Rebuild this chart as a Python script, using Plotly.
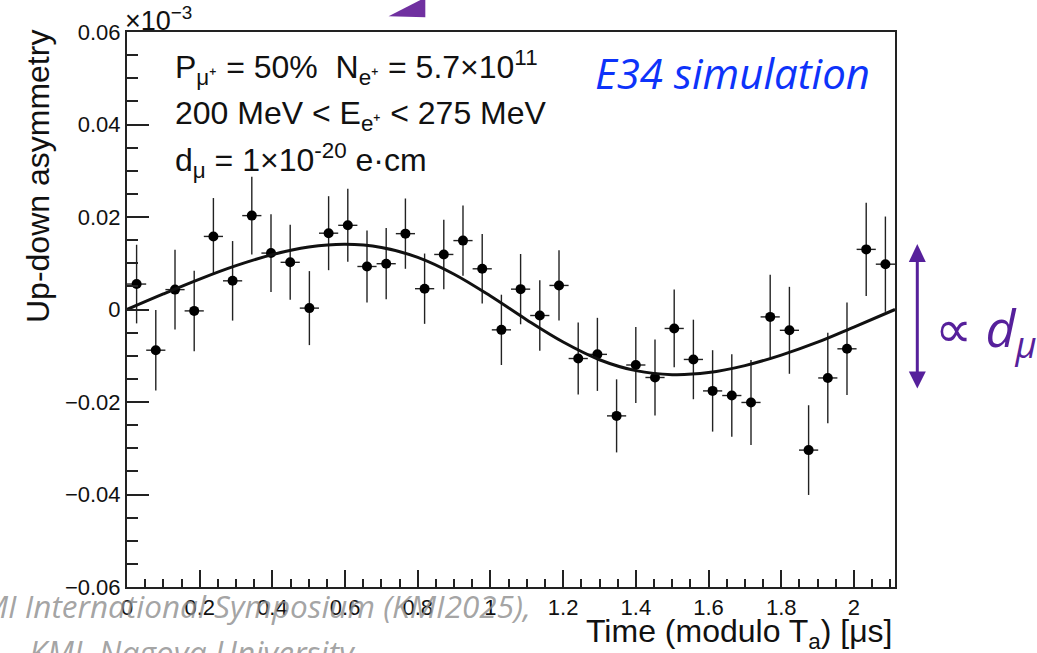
import plotly.graph_objects as go

# ---------------- data ----------------
bin_centers = [0.0264, 0.0792, 0.1321, 0.1849, 0.2377, 0.2905, 0.3434, 0.3962,
               0.4490, 0.5018, 0.5547, 0.6075, 0.6603, 0.7131, 0.7660, 0.8188,
               0.8716, 0.9244, 0.9773, 1.0301, 1.0829, 1.1357, 1.1886, 1.2414,
               1.2942, 1.3470, 1.3999, 1.4527, 1.5055, 1.5583, 1.6112, 1.6640,
               1.7168, 1.7696, 1.8225, 1.8753, 1.9281, 1.9809, 2.0338, 2.0866]
asymmetry = [0.0055, -0.0088, 0.0043, -0.0003, 0.0158, 0.0062, 0.0203, 0.0122,
             0.0102, 0.0003, 0.0165, 0.0182, 0.0093, 0.0099, 0.0164, 0.0045,
             0.0119, 0.0149, 0.0088, -0.0044, 0.0044, -0.0013, 0.0052, -0.0106,
             -0.0097, -0.0230, -0.0120, -0.0147, -0.0041, -0.0108, -0.0176, -0.0186,
             -0.0201, -0.0016, -0.0045, -0.0304, -0.0148, -0.0085, 0.0130, 0.0098]
asym_err = [0.0085, 0.0087, 0.0086, 0.0087, 0.0083, 0.0086, 0.0084, 0.0084,
            0.0081, 0.0080, 0.0080, 0.0079, 0.0078, 0.0077, 0.0076, 0.0076,
            0.0075, 0.0076, 0.0075, 0.0076, 0.0076, 0.0076, 0.0076, 0.0078,
            0.0079, 0.0079, 0.0082, 0.0082, 0.0084, 0.0086, 0.0088, 0.0089,
            0.0092, 0.0091, 0.0094, 0.0097, 0.0098, 0.0100, 0.0101, 0.0103]
bin_half_width = [0.0264] * len(bin_centers)

fit_x = [0.0, 0.1, 0.2, 0.3, 0.4, 0.5, 0.6, 0.7, 0.8, 0.9, 1.0, 1.1,
         1.2, 1.3, 1.4, 1.5, 1.6, 1.7, 1.8, 1.9, 2.0, 2.113]
fit_y = [0.0, 0.00336, 0.00657, 0.00947, 0.01186, 0.01349, 0.01410, 0.01341,
         0.01126, 0.00762, 0.00291, -0.00225, -0.00703, -0.01086, -0.01322,
         -0.01409, -0.01364, -0.01213, -0.00986, -0.00707, -0.00379, 0.0]

x_tickvals = [0, 0.2, 0.4, 0.6, 0.8, 1.0, 1.2, 1.4, 1.6, 1.8, 2.0]
x_ticktext = ["0", "0.2", "0.4", "0.6", "0.8", "1", "1.2", "1.4", "1.6", "1.8", "2"]
y_tickvals = [-0.06, -0.04, -0.02, 0, 0.02, 0.04, 0.06]
y_ticktext = ["\u22120.06", "\u22120.04", "\u22120.02", "0", "0.02", "0.04", "0.06"]

# ---------------- layout geometry ----------------
W, H = 1037, 653
ML, MR, MT, MB = 127, 142, 32, 66
PW, PH = W - ML - MR, H - MT - MB


def px(xp):
    return (xp - ML) / PW


def py(yp):
    return (H - MB - yp) / PH


def path(points):
    s = "M " + " L ".join(f"{px(a):.5f},{py(b):.5f}" for a, b in points) + " Z"
    return s


FONT = "Liberation Sans, Arial, sans-serif"
HUM = "Open Sans, sans-serif"
PURPLE = "#56209b"

fig = go.Figure()

fig.add_trace(go.Scatter(
    x=bin_centers, y=asymmetry, mode="markers",
    marker=dict(color="black", size=10),
    error_y=dict(type="data", array=asym_err, color="#222222", thickness=1.4, width=0),
    error_x=dict(type="data", array=bin_half_width, color="#222222", thickness=1.4, width=0),
    showlegend=False,
))

fig.add_trace(go.Scatter(
    x=fit_x, y=fit_y, mode="lines", line=dict(color="#111111", width=3, shape="spline"),
    showlegend=False,
))

axis_common = dict(
    showline=True, linecolor="#222222", linewidth=2, mirror=True,
    showgrid=False, zeroline=False, ticks="inside", tickcolor="#222222",
    tickfont=dict(family=FONT, size=22, color="#111111"),
)

fig.update_xaxes(range=[0, 2.113], tickvals=x_tickvals, ticktext=x_ticktext,
                 ticklen=17, tickwidth=1.5,
                 minor=dict(ticks="inside", dtick=0.05, ticklen=8, tickcolor="#222222", tickwidth=1.5),
                 **axis_common)
fig.update_yaxes(range=[-0.06, 0.06], tickvals=y_tickvals, ticktext=y_ticktext,
                 ticklen=22, tickwidth=1.5,
                 minor=dict(ticks="inside", dtick=0.005, ticklen=11, tickcolor="#222222", tickwidth=1.5),
                 **axis_common)

ann = []
# axis titles
ann.append(dict(text="Up-down asymmetry", xref="paper", yref="paper", x=px(38), y=py(177),
                textangle=-90, showarrow=False, xanchor="center", yanchor="middle",
                font=dict(family=FONT, size=32, color="#111111")))
ann.append(dict(text="Time (modulo T<sub>a</sub>) [\u03bcs]", xref="paper", yref="paper",
                x=1.0, y=py(633), showarrow=False, xanchor="right", yanchor="middle",
                font=dict(family=FONT, size=32, color="#111111")))
ann.append(dict(text="\u00d710<sup>\u22123</sup>", xref="paper", yref="paper",
                x=px(123), y=py(19), showarrow=False, xanchor="left", yanchor="middle",
                font=dict(family=FONT, size=27, color="#111111")))
# in-plot labels
ann.append(dict(text="P<sub>\u03bc\u207a</sub> = 50%  N<sub>e\u207a</sub> = 5.7\u00d710<sup>11</sup>",
                xref="paper", yref="paper", x=px(173), y=py(67), showarrow=False,
                xanchor="left", yanchor="middle", font=dict(family=FONT, size=32, color="#111111")))
ann.append(dict(text="200 MeV &lt; E<sub>e\u207a</sub> &lt; 275 MeV",
                xref="paper", yref="paper", x=px(173), y=py(115), showarrow=False,
                xanchor="left", yanchor="middle", font=dict(family=FONT, size=32, color="#111111")))
ann.append(dict(text="d<sub>\u03bc</sub> = 1\u00d710<sup>-20</sup> e\u00b7cm",
                xref="paper", yref="paper", x=px(173), y=py(160), showarrow=False,
                xanchor="left", yanchor="middle", font=dict(family=FONT, size=32, color="#111111")))
ann.append(dict(text="<i>E34 simulation</i>", xref="paper", yref="paper", x=px(732), y=py(72),
                showarrow=False, xanchor="center", yanchor="middle",
                font=dict(family=HUM, size=42, color="#0d33fa")))
ann.append(dict(text="\u221d <i>d<sub>\u03bc</sub></i>", xref="paper", yref="paper", x=px(933), y=py(330),
                showarrow=False, xanchor="left", yanchor="middle",
                font=dict(family=HUM, size=52, color=PURPLE)))
# watermark text
ann.append(dict(text="<i>KMI International Symposium (KMI2025),</i>", xref="paper", yref="paper",
                x=px(533), y=py(605), showarrow=False, xanchor="right", yanchor="middle",
                font=dict(family=HUM, size=31.5, color="rgba(140,140,140,0.8)")))
ann.append(dict(text="<i>KMI, Nagoya University</i>", xref="paper", yref="paper",
                x=px(27), y=py(652), showarrow=False, xanchor="left", yanchor="middle",
                font=dict(family=HUM, size=32, color="rgba(140,140,140,0.8)")))

shapes = []
# purple arrow on the right
shapes.append(dict(type="line", xref="paper", yref="paper", x0=px(917.3), x1=px(917.3),
                   y0=py(258), y1=py(375), line=dict(color=PURPLE, width=3)))
shapes.append(dict(type="path", xref="paper", yref="paper",
                   path=path([(908.8, 262), (925.8, 262), (917.3, 244)]),
                   fillcolor=PURPLE, line=dict(color=PURPLE, width=0)))
shapes.append(dict(type="path", xref="paper", yref="paper",
                   path=path([(908.8, 371.5), (925.8, 371.5), (917.3, 388.5)]),
                   fillcolor=PURPLE, line=dict(color=PURPLE, width=0)))
# partial purple arrowhead at the top
shapes.append(dict(type="path", xref="paper", yref="paper",
                   path=path([(388.6, 16.3), (421.4, -0.5), (425.3, -0.5), (425.3, 17.2)]),
                   fillcolor="#7030a0", line=dict(color="#7030a0", width=0)))

fig.update_layout(
    width=W, height=H, margin=dict(l=ML, r=MR, t=MT, b=MB, pad=0),
    paper_bgcolor="white", plot_bgcolor="white",
    annotations=ann, shapes=shapes, showlegend=False,
)

fig.write_html("out.html")
